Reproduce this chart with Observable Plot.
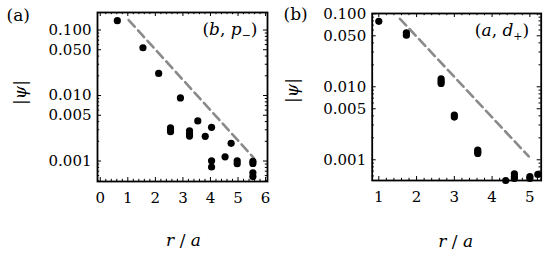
<!DOCTYPE html>
<html><head><meta charset="utf-8">
<script src="https://cdn.jsdelivr.net/npm/d3@7"></script>
<script src="https://cdn.jsdelivr.net/npm/@observablehq/plot@0.6"></script>
<style>
body{margin:0;background:#fff;}
#wrap{position:relative;width:550px;height:255px;overflow:hidden;}
#wrap svg{position:absolute;top:0;}
</style></head><body><div id="wrap"></div>
<script>
// ---- Panel (a): (b, p-) ----
const rA   = [0.62, 1.55, 2.12, 2.91, 3.54, 2.55, 2.55, 2.55, 3.24, 3.24, 3.24, 3.81, 4.04, 4.04, 4.04, 4.53, 4.75, 4.97, 4.97, 5.54, 5.54, 5.54, 5.54];
const psiA = [0.139, 0.0536, 0.0217, 0.0092, 0.0041, 0.0032, 0.0030, 0.0028, 0.0029, 0.0026, 0.0024, 0.00238, 0.00327, 0.00101, 0.00081, 0.00116, 0.00186, 0.00101, 0.00091, 0.00099, 0.00092, 0.00066, 0.00058];
const guideRA   = [1.03, 5.57];
const guidePsiA = [0.142, 0.00112];

// ---- Panel (b): (a, d+) ----
const rB   = [1.0, 1.73, 1.73, 2.65, 2.65, 2.65, 3.0, 3.0, 3.62, 3.62, 3.62, 4.36, 4.59, 4.59, 4.59, 5.0, 5.0, 5.21];
const psiB = [0.079, 0.055, 0.051, 0.0128, 0.0119, 0.0111, 0.0041, 0.00385, 0.00136, 0.00129, 0.00122, 0.00052, 0.00064, 0.00059, 0.000554, 0.000589, 0.000554, 0.00063];
const guideRB   = [1.56, 4.97];
const guidePsiB = [0.0855, 0.00111];

// ---- ticks ----
const yMajorTicks = [0.001, 0.005, 0.01, 0.05, 0.1];
const yTickLabels = ["0.001", "0.005", "0.010", "0.050", "0.100"];
const xMajorA = [0, 1, 2, 3, 4, 5, 6];
const xMajorB = [1, 2, 3, 4, 5];

const FONT = "DejaVu Serif";

function makePanel(o) {
  const W = o.width, H = 255;
  const fw = W - o.ml - o.mr, fh = H - o.mt - o.mb;
  const pts = o.r.map((r, i) => ({r, psi: o.psi[i]}));
  const guide = o.gr.map((r, i) => ({r, psi: o.gp[i]}));
  const yLab = yMajorTicks.map((v, i) => ({v, label: yTickLabels[i]}));
  const [x0, x1] = o.xDomain, [y0, y1] = o.yDomain;
  const xMinor = d3.range(Math.ceil(x0 * 5), Math.floor(x1 * 5) + 1).map(k => k / 5).filter(v => !o.xMajor.includes(Math.round(v*1000)/1000));
  const yMinor = [];
  for (let e = -4; e <= 0; e++) for (let m = 1; m <= 9; m++) {
    const v = +(m * Math.pow(10, e)).toPrecision(3);
    if (v >= y0 && v <= y1 && !yMajorTicks.includes(v)) yMinor.push(v);
  }
  const tk = {stroke: "black", strokeWidth: 1};
  const svg = Plot.plot({
    width: W, height: H,
    marginLeft: o.ml, marginRight: o.mr, marginTop: o.mt, marginBottom: o.mb,
    style: {fontFamily: FONT, fontSize: "15px", color: "black", background: "white"},
    x: {domain: o.xDomain, axis: null},
    y: {type: "log", domain: o.yDomain, axis: null},
    marks: [
      Plot.line(guide, {x: "r", y: "psi", stroke: "#8a8a8a", strokeWidth: 2.6, strokeDasharray: "9,5"}),
      Plot.dot(pts, {x: "r", y: "psi", r: 3.6, fill: "black"}),
      // inward ticks: bottom/top
      Plot.tickX(o.xMajor, {x: d => d, insetTop: fh - 4, ...tk}),
      Plot.tickX(o.xMajor, {x: d => d, insetBottom: fh - 4, ...tk}),
      Plot.tickX(xMinor, {x: d => d, insetTop: fh - 2.2, ...tk}),
      Plot.tickX(xMinor, {x: d => d, insetBottom: fh - 2.2, ...tk}),
      // inward ticks: left/right
      Plot.tickY(yMajorTicks, {y: d => d, insetRight: fw - 4, ...tk}),
      Plot.tickY(yMajorTicks, {y: d => d, insetLeft: fw - 4, ...tk}),
      Plot.tickY(yMinor, {y: d => d, insetRight: fw - 2.2, ...tk}),
      Plot.tickY(yMinor, {y: d => d, insetLeft: fw - 2.2, ...tk}),
      Plot.frame({stroke: "black", strokeWidth: 1.8}),
      // tick labels
      Plot.text(o.xMajor, {x: d => d, frameAnchor: "bottom", text: d => String(d), lineAnchor: "middle", dy: 17, fontSize: 15}),
      Plot.text(yLab, {y: "v", frameAnchor: "left", text: "label", textAnchor: "end", lineAnchor: "middle", dx: -6, fontSize: 15}),
      // labels
      Plot.text([o.tag], {frameAnchor: "top-left", text: d => d, dx: o.tagDx, dy: o.tagDy, fontSize: 17, textAnchor: "start"}),
      Plot.text([o.state], {frameAnchor: "top-right", text: d => d, dx: o.stDx, dy: o.stDy, fontSize: 17}),
      Plot.text(["|ψ|"], {frameAnchor: "left", text: d => d, rotate: -90, textAnchor: "middle", lineAnchor: "middle", dx: o.ylDx, dy: o.ylDy, fontSize: 17}),
      Plot.text(["r / a"], {frameAnchor: "bottom", text: d => d, textAnchor: "middle", lineAnchor: "middle", dx: o.xlDx, dy: o.xlDy, fontSize: 17})
    ]
  });
  // rich text: italics and subscripts
  const rich = {
    "(b, p−)": '(<tspan font-style="italic">b</tspan>, <tspan font-style="italic">p</tspan><tspan font-size="11" dy="4">−</tspan><tspan dy="-4">)</tspan>',
    "(a, d+)": '(<tspan font-style="italic">a</tspan>, <tspan font-style="italic">d</tspan><tspan font-size="11" dy="4">+</tspan><tspan dy="-4">)</tspan>',
    "|ψ|": '|<tspan font-style="italic">ψ</tspan>|',
    "r / a": '<tspan font-style="italic">r</tspan> / <tspan font-style="italic">a</tspan>'
  };
  d3.select(svg).selectAll("text").each(function() {
    const t = this.textContent;
    if (rich[t]) this.innerHTML = rich[t];
  });
  svg.style.left = o.left + "px";
  return svg;
}

const wrap = document.getElementById("wrap");
wrap.appendChild(makePanel({
  left: 0, width: 275, ml: 97, mr: 8, mt: 12, mb: 74,
  xDomain: [-0.1, 6.07], yDomain: [0.000487, 0.185], xMajor: xMajorA,
  r: rA, psi: psiA, gr: guideRA, gp: guidePsiA,
  tag: "(a)", tagDx: -91, tagDy: -4,
  state: "(b, p−)", stDx: -10, stDy: 10,
  ylDx: -77, ylDy: -4.5, xlDx: 1, xlDy: 59
}));
wrap.appendChild(makePanel({
  left: 275, width: 275, ml: 96.7, mr: 9.3, mt: 13, mb: 75,
  xDomain: [0.825, 5.30], yDomain: [0.00052, 0.101], xMajor: xMajorB,
  r: rB, psi: psiB, gr: guideRB, gp: guidePsiB,
  tag: "(b)", tagDx: -88.7, tagDy: -6,
  state: "(a, d+)", stDx: -12, stDy: 10,
  ylDx: -80, ylDy: -6.5, xlDx: -1, xlDy: 61
}));
</script></body></html>
